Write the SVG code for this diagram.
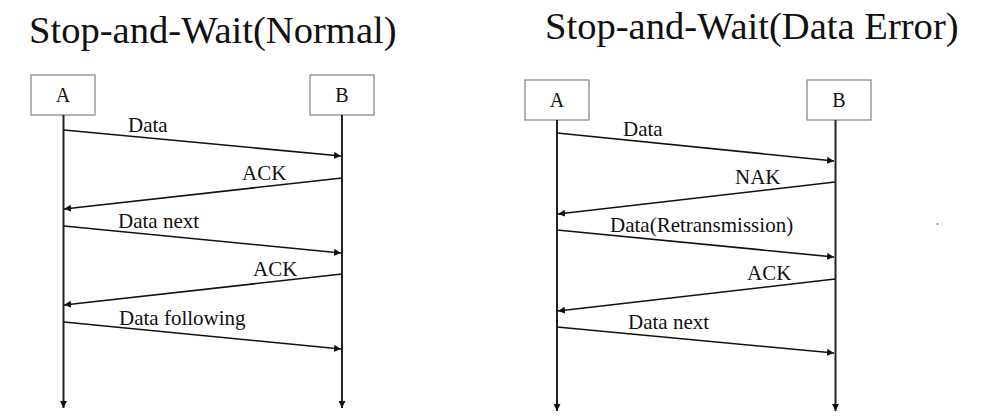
<svg xmlns="http://www.w3.org/2000/svg" width="996" height="419" viewBox="0 0 996 419">
<defs>
<marker id="ah" viewBox="0 0 10 10" refX="10" refY="5" markerWidth="7" markerHeight="7" markerUnits="userSpaceOnUse" orient="auto">
<path d="M0,0 L10,5 L0,10 z" fill="#111"/>
</marker>
<style>
text{font-family:"Liberation Serif","DejaVu Serif","Times New Roman",serif;fill:#111}
.title{font-size:38.6px}
.lbl{font-size:21px}
.nm{font-size:20px}
.box{fill:#fff;stroke:#8a8a8a;stroke-width:1.3}
.life{stroke:#222;stroke-width:2;fill:none}
.msg{stroke:#111;stroke-width:1.6;fill:none}
</style>
</defs>
<rect width="996" height="419" fill="#fff"/>
<text class="title" x="29" y="43">Stop-and-Wait(Normal)</text>
<text class="title" x="545" y="39">Stop-and-Wait(Data Error)</text>

<g id="L_A"><rect class="box" x="31" y="75" width="64" height="40"/><text class="nm" x="63" y="102" text-anchor="middle">A</text></g>
<g id="L_B"><rect class="box" x="310" y="75" width="64" height="40"/><text class="nm" x="342" y="102" text-anchor="middle">B</text></g>
<g id="R_A"><rect class="box" x="525" y="80" width="64" height="40"/><text class="nm" x="557" y="107" text-anchor="middle">A</text></g>
<g id="R_B"><rect class="box" x="807" y="80" width="64" height="40"/><text class="nm" x="839" y="107" text-anchor="middle">B</text></g>

<g id="connectors">
<line class="life" x1="63.5" y1="115" x2="63.5" y2="408" marker-end="url(#ah)"/>
<line class="life" x1="342" y1="115" x2="342" y2="408" marker-end="url(#ah)"/>
<line class="life" x1="557" y1="120" x2="557" y2="411" marker-end="url(#ah)"/>
<line class="life" x1="835.5" y1="120" x2="835.5" y2="411" marker-end="url(#ah)"/>

<line class="msg" x1="64" y1="130" x2="341" y2="156" marker-end="url(#ah)"/>
<line class="msg" x1="342" y1="178" x2="64" y2="209" marker-end="url(#ah)"/>
<line class="msg" x1="64" y1="226" x2="341" y2="253" marker-end="url(#ah)"/>
<line class="msg" x1="342" y1="274" x2="64" y2="305" marker-end="url(#ah)"/>
<line class="msg" x1="64" y1="322" x2="341" y2="349" marker-end="url(#ah)"/>

<line class="msg" x1="557" y1="133" x2="834" y2="161" marker-end="url(#ah)"/>
<line class="msg" x1="835" y1="182" x2="558" y2="214" marker-end="url(#ah)"/>
<line class="msg" x1="557" y1="230" x2="834" y2="257" marker-end="url(#ah)"/>
<line class="msg" x1="835" y1="279" x2="558" y2="311" marker-end="url(#ah)"/>
<line class="msg" x1="557" y1="327" x2="834" y2="353" marker-end="url(#ah)"/>
</g>

<g id="labels">
<text class="lbl" x="128" y="132">Data</text>
<text class="lbl" x="242" y="180">ACK</text>
<text class="lbl" x="118" y="228">Data next</text>
<text class="lbl" x="253" y="276">ACK</text>
<text class="lbl" x="119" y="325">Data following</text>

<text class="lbl" x="623" y="136">Data</text>
<text class="lbl" x="735" y="184">NAK</text>
<text class="lbl" x="610" y="232">Data(Retransmission)</text>
<text class="lbl" x="747" y="280">ACK</text>
<text class="lbl" x="628" y="329">Data next</text>
</g>
<circle cx="937.5" cy="224" r="1" fill="#777"/>
</svg>
